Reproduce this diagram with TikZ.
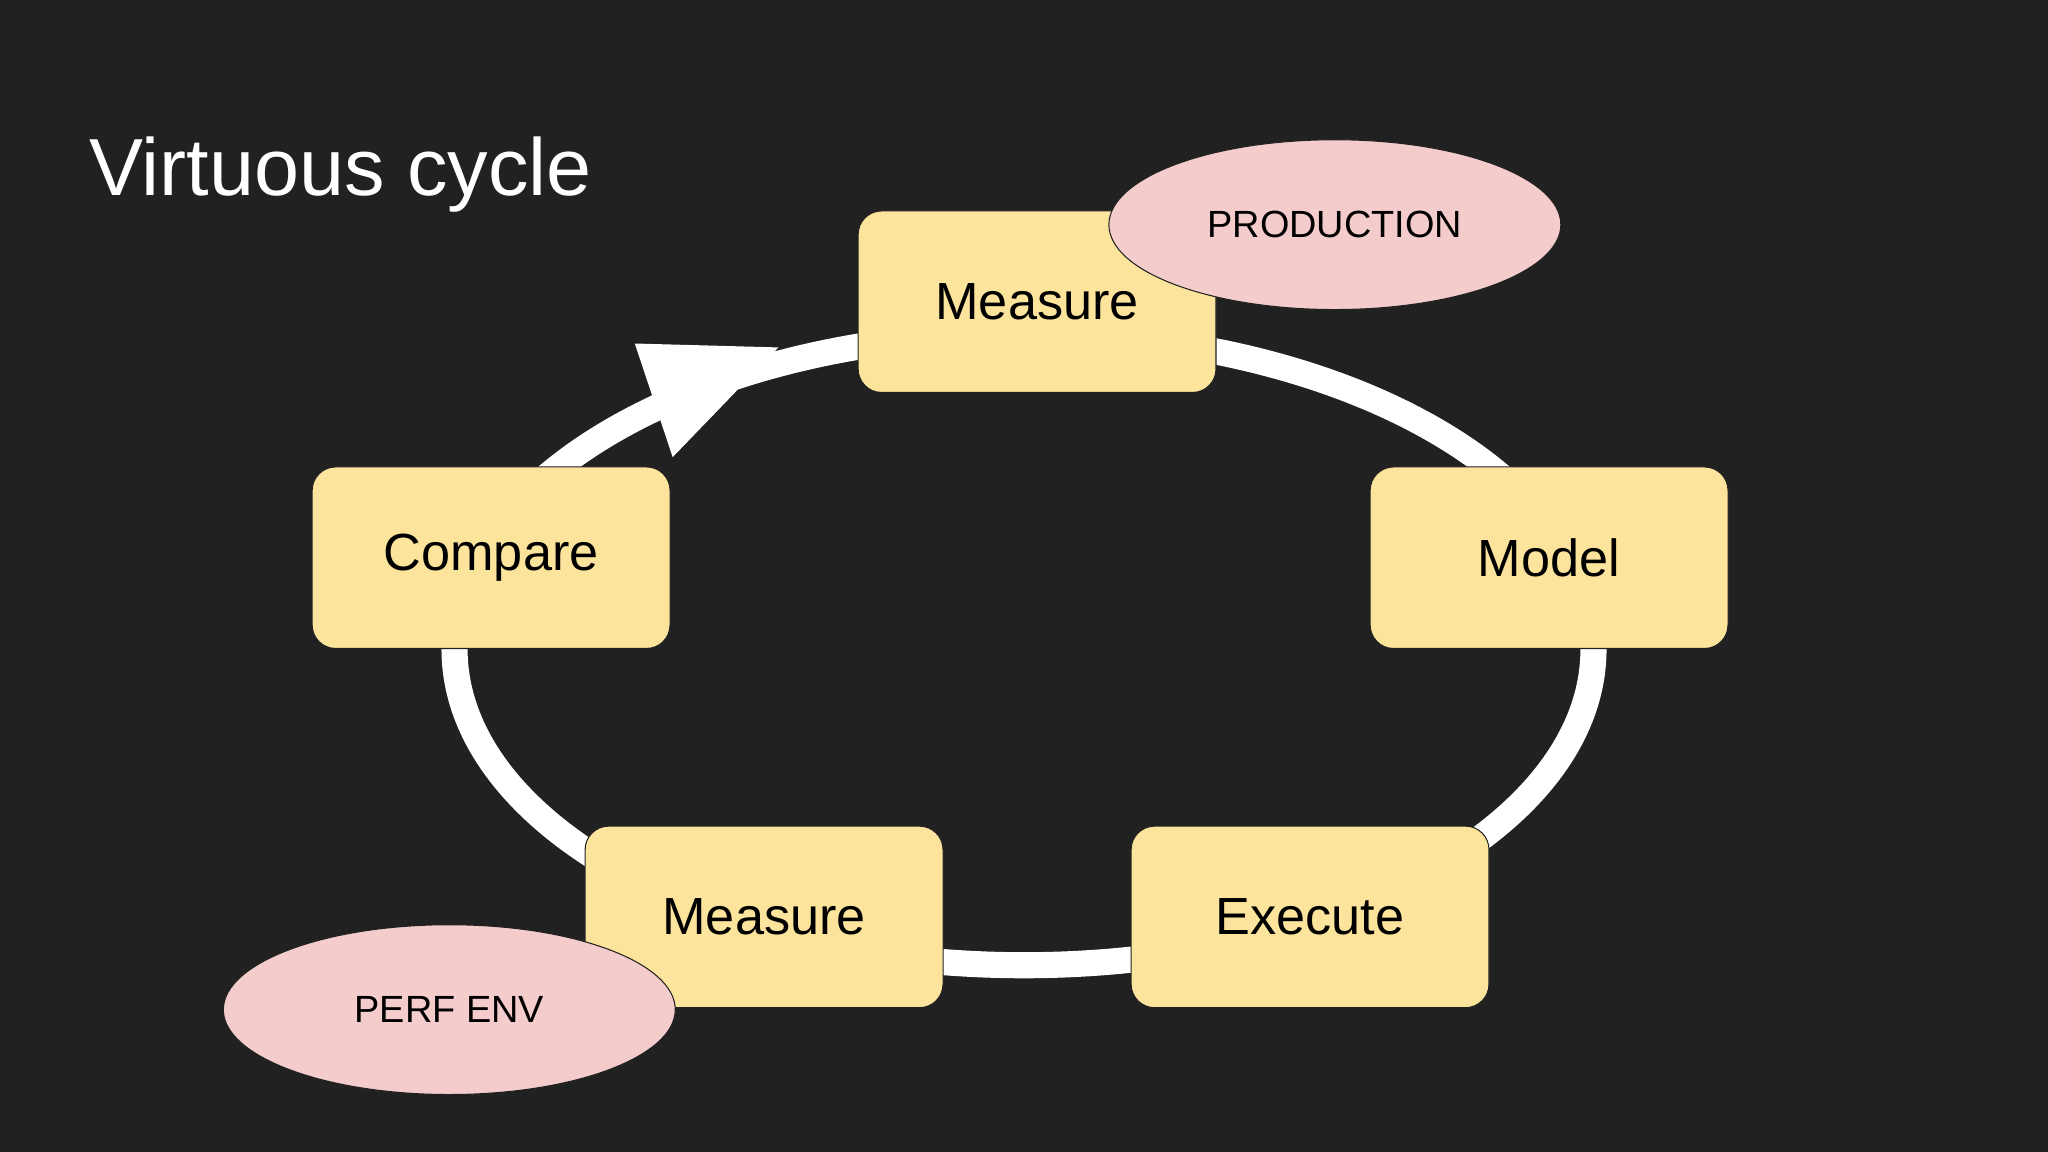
\documentclass[tikz,border=0pt]{standalone}
\usepackage{fontspec}
\setmainfont{Liberation Sans}
\usetikzlibrary{shapes.geometric}
\definecolor{bg}{HTML}{212121}
\definecolor{boxfill}{HTML}{FDE49C}
\definecolor{pink}{HTML}{F4CCCC}
\begin{document}
\begin{tikzpicture}[x=1pt,y=-1pt,
  box/.style={draw=bg,line width=0.8pt,fill=boxfill,rounded corners=18pt,minimum width=274pt,minimum height=139pt,inner sep=0pt,font=\fontsize{40}{48}\selectfont,text=black},
  tag/.style={ellipse,draw=bg,line width=0.8pt,fill=pink,minimum width=346pt,minimum height=130pt,inner sep=0pt,font=\fontsize{29}{34}\selectfont,text=black},
  loop/.style={draw=white,line width=20pt}]
\fill[bg] (0,0) rectangle (1568,882);
\useasboundingbox (0,0) rectangle (1568,882);
\node[anchor=base west,text=white,font=\fontsize{62}{70}\selectfont,inner sep=0pt] (title) at (68,150) {Virtuous cycle};
\draw[loop] (784,497) ellipse [x radius=436, y radius=242];
\fill[white] (486,263) -- (596,266) -- (515,350) -- cycle;
\node[box] (mtop) at (794,231) {Measure};
\node[box] (cmp) at (376,427) {Compare};
\node[box] (mdl) at (1186,427) {Model};
\node[box] (mbot) at (585,702) {Measure};
\node[box] (exe) at (1003,702) {Execute};
\node[tag] (prod) at (1022,172) {PRODUCTION};
\node[tag] (perf) at (344,773) {PERF ENV};
\end{tikzpicture}
\end{document}
